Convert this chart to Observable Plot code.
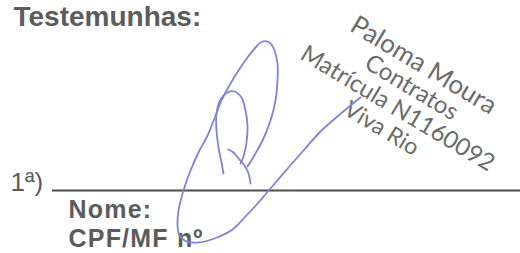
<!DOCTYPE html>
<html>
<head>
<meta charset="utf-8">
<script src="https://cdn.jsdelivr.net/npm/d3@7"></script>
<script src="https://cdn.jsdelivr.net/npm/@observablehq/plot@0.6"></script>
<style>
  html, body { margin: 0; padding: 0; background: #fff; }
  #chart svg { display: block; }
</style>
</head>
<body>
<div id="chart"></div>
<script>
// Form labels (page coordinates)
const labels = ["Testemunhas:", "Nome:", "CPF/MF nº"];
const labelX = [13, 68, 68];
const labelY = [25, 217, 246];
const labelSize = [28, 25, 25];

const ordinal = ["1ª)"];
const ordinalX = [10];
const ordinalY = [190];

// Signature line
const lineX1 = [52];
const lineX2 = [520];
const lineY = [190];

// Stamp text (rotated)
const stampLines = ["Paloma Moura", "Contratos", "Matrícula N1160092", "Viva Rio"];
const stampX = [423, 411, 397, 381];
const stampY = [65, 87, 108, 128];
const stampSize = [26, 24, 24, 23];

// Handwritten signature strokes
const strokeA = [[360,97],[338,115],[320,131],[303,150],[288,167],[270,188],[258,202],[245,216],[232,229],[214,238],[198,242],[186,241],[179,235],[177,224],[178,210],[183,190],[190,170],[198,152],[207,135],[214,118],[221,100],[230,83],[238,70],[247,57],[255,47],[262,41],[269,42],[274,50],[277,63],[277,80],[275,100],[270,120],[263,138],[255,153],[247,166]];
const strokeB = [[223,173],[221,162],[218,147],[216,130],[216,113],[220,99],[227,92],[234,91],[241,97],[245,110],[247,125],[246,142],[243,156],[240,163]];
const strokeC = [[228,149],[233,152],[238,158],[244,165],[248,173],[250,183]];

const sig = [];
[strokeA, strokeB, strokeC].forEach((s, i) => s.forEach(([x, y]) => sig.push({x, y, id: i})));

const lab = labels.map((t, i) => ({t, x: labelX[i], y: labelY[i], s: labelSize[i]}));
const ord = ordinal.map((t, i) => ({t, x: ordinalX[i], y: ordinalY[i]}));
const rule = lineY.map((y, i) => ({y, x1: lineX1[i], x2: lineX2[i]}));
const stamp = stampLines.map((t, i) => ({t, x: stampX[i], y: stampY[i], s: stampSize[i]}));

const textColor = "#5c5c5c";

const chart = Plot.plot({
  width: 520,
  height: 253,
  margin: 0,
  x: {domain: [0, 520], range: [0, 520], axis: null},
  y: {domain: [0, 253], range: [0, 253], axis: null},
  style: {background: "#ffffff"},
  marks: [
    Plot.ruleY(rule, {y: "y", x1: "x1", x2: "x2", stroke: "#4d4d4d", strokeWidth: 2}),
    Plot.text(lab, {x: "x", y: "y", text: "t", fontSize: "s", textAnchor: "start", lineAnchor: "bottom",
      fontWeight: "bold", fontFamily: "Liberation Sans, Arial, sans-serif", fill: textColor}),
    Plot.text(ord, {x: "x", y: "y", text: "t", textAnchor: "start", lineAnchor: "bottom",
      fontSize: 26, fontFamily: "Liberation Sans, Arial, sans-serif", fill: textColor}),
    Plot.text(stamp, {x: "x", y: "y", text: "t", fontSize: "s", rotate: 31, textAnchor: "middle", lineAnchor: "middle",
      fontFamily: "Lato, sans-serif", fill: "#6b6b6b"}),
    Plot.line(sig, {x: "x", y: "y", z: "id", curve: "catmull-rom", stroke: "#8282d6",
      strokeWidth: 1.8, strokeLinecap: "round", strokeLinejoin: "round"})
  ]
});
// slight letter spacing on the lower form labels, as in the scan
d3.select(chart).selectAll("text").filter(function() {
  const t = this.textContent;
  return t === "Nome:" || t === "CPF/MF nº";
}).attr("letter-spacing", "1.2px");
document.getElementById("chart").appendChild(chart);
</script>
</body>
</html>
